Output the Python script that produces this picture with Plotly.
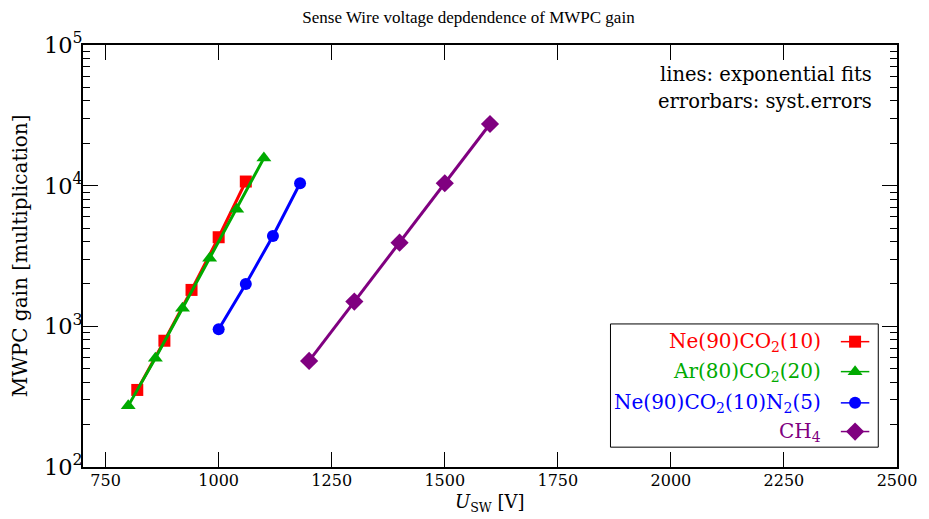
import plotly.graph_objects as go

# ---- data ----
ne_co2_u = [820, 880, 940, 1000, 1060]
ne_co2_g = [353, 790, 1815, 4300, 10700]

ar_co2_u = [800, 860, 920, 980, 1040, 1100]
ar_co2_g = [272, 593, 1345, 3050, 6800, 15700]

ne_co2_n2_u = [1000, 1060, 1120, 1180]
ne_co2_n2_g = [953, 2000, 4390, 10400]

ch4_u = [1200, 1300, 1400, 1500, 1600]
ch4_g = [568, 1500, 3935, 10400, 27450]

series_names = [
    "Ne(90)CO<sub>2</sub>(10)",
    "Ar(80)CO<sub>2</sub>(20)",
    "Ne(90)CO<sub>2</sub>(10)N<sub>2</sub>(5)",
    "CH<sub>4</sub>",
]
x_ticks = [750, 1000, 1250, 1500, 1750, 2000, 2250, 2500]

# ---- styles ----
colors = ["#ff0000", "#00aa00", "#0000ff", "#800080"]
symbols = ["square", "triangle-up", "circle", "diamond"]
msizes = [12, 13, 12, 14]
FONT = "'DejaVu Serif', serif"
TITLE_FONT = "'Liberation Serif', 'DejaVu Serif', serif"

data = [(ne_co2_u, ne_co2_g), (ar_co2_u, ar_co2_g),
        (ne_co2_n2_u, ne_co2_n2_g), (ch4_u, ch4_g)]

fig = go.Figure()
for (xs, ys), c, s, ms, nm in zip(data, colors, symbols, msizes, series_names):
    fig.add_trace(go.Scatter(
        x=xs, y=ys, mode="lines+markers", name=nm, showlegend=False,
        line=dict(color=c, width=3),
        marker=dict(color=c, symbol=s, size=ms, line=dict(width=0)),
    ))

# ---- custom legend (text left, sample right) ----
leg_x0, leg_x1, leg_y0, leg_y1 = 0.648, 0.977, 0.047, 0.339
row_y = [0.297, 0.226, 0.152, 0.084]
samp_x0, samp_x1, samp_xc, text_x = 0.931, 0.966, 0.9485, 0.909

fig.add_shape(type="rect", xref="paper", yref="paper",
              x0=leg_x0, x1=leg_x1, y0=leg_y0, y1=leg_y1,
              line=dict(color="black", width=1), fillcolor="white", layer="below")
for ry, c, s, ms, nm in zip(row_y, colors, symbols, msizes, series_names):
    fig.add_trace(go.Scatter(
        x=[samp_x0, samp_xc, samp_x1], y=[ry, ry, ry], xaxis="x2", yaxis="y2",
        mode="lines", line=dict(color=c, width=1.5), showlegend=False, hoverinfo="skip"))
    fig.add_trace(go.Scatter(
        x=[samp_xc], y=[ry], xaxis="x2", yaxis="y2",
        mode="markers", marker=dict(color=c, symbol=s, size=ms, line=dict(width=0)),
        showlegend=False, hoverinfo="skip"))
    fig.add_annotation(xref="paper", yref="paper", x=text_x, y=ry, text=nm,
                       showarrow=False, xanchor="right", yanchor="middle",
                       font=dict(family=FONT, size=20, color=c))

fig.add_annotation(xref="paper", yref="paper", x=0.972, y=0.931,
                   text="lines: exponential fits", showarrow=False,
                   xanchor="right", yanchor="middle",
                   font=dict(family=FONT, size=19.5, color="black"))
fig.add_annotation(xref="paper", yref="paper", x=0.972, y=0.867,
                   text="errorbars: syst.errors", showarrow=False,
                   xanchor="right", yanchor="middle",
                   font=dict(family=FONT, size=19.5, color="black"))

# axis titles as annotations for exact placement
fig.add_annotation(xref="paper", yref="paper", x=0.5, y=-0.086,
                   text="<i>U</i><sub>SW</sub> [V]", showarrow=False,
                   xanchor="center", yanchor="middle",
                   font=dict(family=FONT, size=18, color="black"))
fig.add_annotation(xref="paper", yref="paper", x=-0.077, y=0.5,
                   text="MWPC gain [multiplication]", showarrow=False,
                   textangle=-90, xanchor="center", yanchor="middle",
                   font=dict(family=FONT, size=20, color="black"))

# page body has an 8px margin: figure is 921x511 placed at (8, 8)
fig.update_layout(
    width=921, height=511,
    margin=dict(l=75, r=24, t=37, b=52),
    paper_bgcolor="white", plot_bgcolor="white",
    font=dict(family=FONT, size=16, color="black"),
    title=dict(text="Sense Wire voltage depdendence of MWPC gain",
               x=0.5, xanchor="center", y=0.982, yanchor="middle",
               font=dict(family=TITLE_FONT, size=17)),
    xaxis=dict(range=[700, 2500], tickvals=x_ticks, ticks="inside", ticklen=15,
               tickcolor="black", showline=True, linecolor="black", linewidth=1.5,
               mirror="ticks", showgrid=False, zeroline=False,
               ticklabelstandoff=-2,
               tickfont=dict(family=FONT, size=16)),
    yaxis=dict(type="log", range=[2, 5], dtick=1, exponentformat="power",
               ticks="inside", ticklen=15, tickcolor="black",
               showline=True, linecolor="black", linewidth=1.5, mirror="ticks",
               showgrid=False, zeroline=False, ticklabelstandoff=-5,
               tickfont=dict(family=FONT, size=18),
               minor=dict(dtick="D1", ticks="inside", ticklen=7,
                          tickcolor="black", showgrid=False)),
    xaxis2=dict(range=[0, 1], overlaying="x", visible=False, fixedrange=True),
    yaxis2=dict(range=[0, 1], overlaying="y", visible=False, fixedrange=True),
)

fig.write_html("out.html")
